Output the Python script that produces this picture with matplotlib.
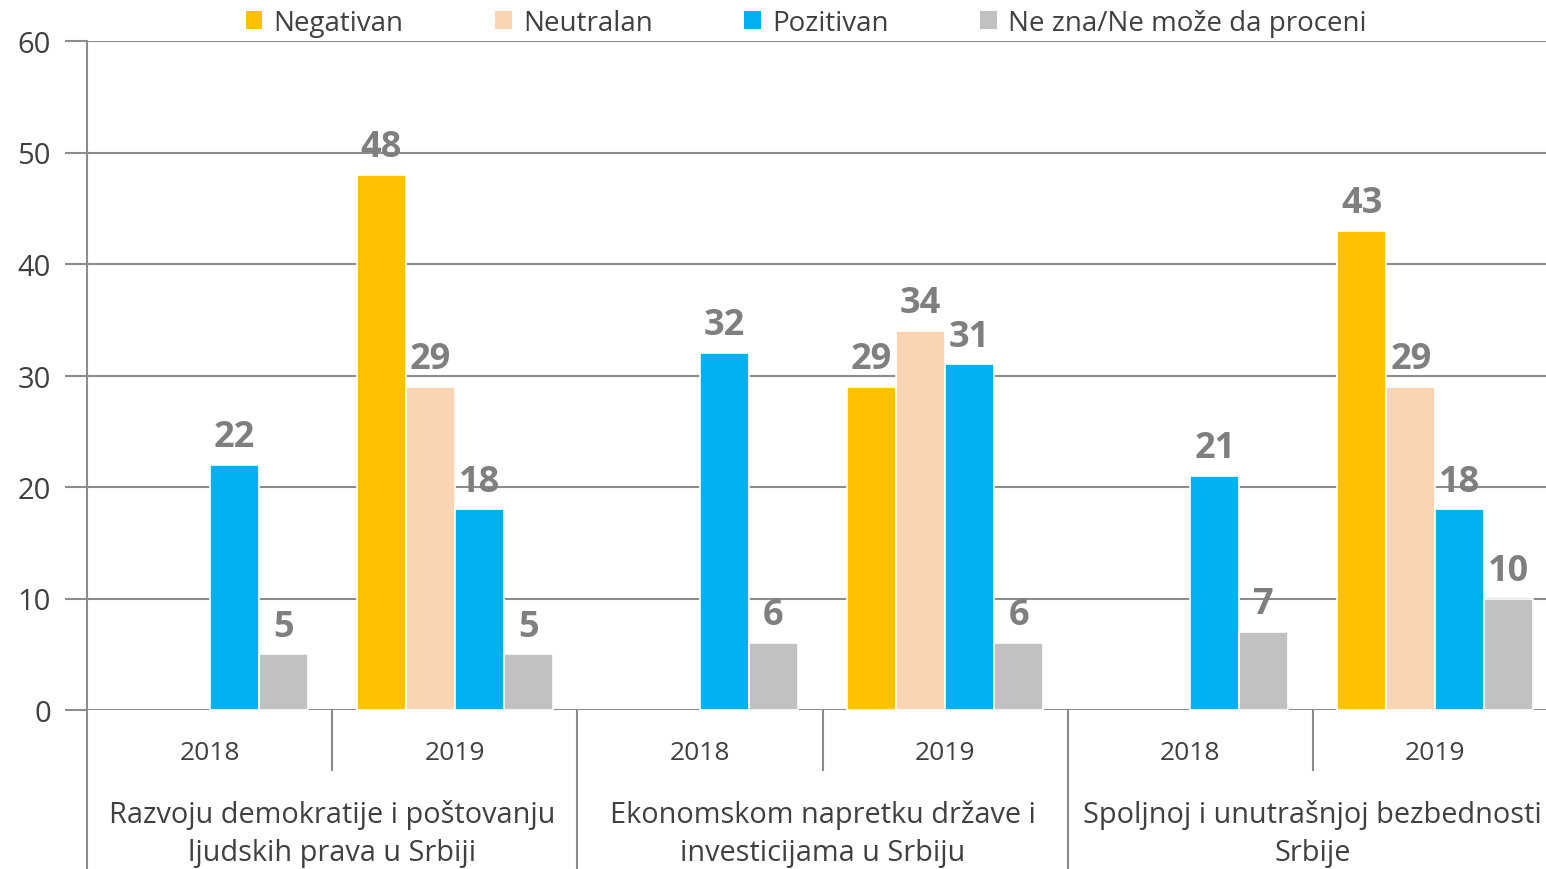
"""Grouped bars: stav prema uticaju po oblastima, 2018 vs 2019."""

import matplotlib

matplotlib.use("Agg")
import matplotlib.pyplot as plt
from matplotlib.patches import Patch
from matplotlib.lines import Line2D

plt.rcParams["font.family"] = ["Open Sans", "DejaVu Sans"]

# data
categories = [
    "Razvoju demokratije i poštovanju\nljudskih prava u Srbiji",
    "Ekonomskom napretku države i\ninvesticijama u Srbiju",
    "Spoljnoj i unutrašnjoj bezbednosti\nSrbije",
]
years = ["2018", "2019", "2018", "2019", "2018", "2019"]
series_names = ["Negativan", "Neutralan", "Pozitivan", "Ne zna/Ne može da proceni"]
negativan = [None, 48, None, 29, None, 43]
neutralan = [None, 29, None, 34, None, 29]
pozitivan = [22, 18, 32, 31, 21, 18]
ne_zna = [5, 5, 6, 6, 7, 10]
y_ticks = [0, 10, 20, 30, 40, 50, 60]

colors = ["#FFC000", "#FBD4B4", "#00B0F0", "#C0C1C3"]
GRID = "#8C8C8C"
TEXT = "#404040"
LABEL = "#7F7F7F"

fig = plt.figure(figsize=(15.46, 8.7), dpi=100)
ax = fig.add_axes([87 / 1546, 159 / 870, 1471 / 1546, 669 / 870])

width = 0.2
offsets = [-0.3, -0.1, 0.1, 0.3]
all_series = [negativan, neutralan, pozitivan, ne_zna]

for vals, off, col in zip(all_series, offsets, colors):
    for i, v in enumerate(vals):
        if v is None:
            continue
        x = i + 0.5 + off
        ax.bar(x, v, width=width, color=col, edgecolor="white", linewidth=1.2, zorder=3)
        ax.annotate(
            str(v), (x, v), xytext=(0, 7), textcoords="offset points",
            ha="center", va="bottom", fontsize=26, fontweight="bold",
            color=LABEL, zorder=4,
        )

ax.set_xlim(0, 6)
ax.set_ylim(0, 60)
ax.set_yticks(y_ticks)
ax.tick_params(axis="y", length=16, width=1.5, color=GRID, pad=10,
               labelsize=21, labelcolor=TEXT)
ax.set_xticks([])
ax.yaxis.grid(True, color=GRID, linewidth=1.5, zorder=0)
for side in ["top", "right", "bottom", "left"]:
    ax.spines[side].set_visible(False)

# axis lines of the two-level x axis
trans = ax.get_xaxis_transform()
ax.add_line(Line2D([0, 0], [1, -159 / 669], transform=trans, color=GRID,
                   linewidth=1.5, clip_on=False))
for xb in [1, 3, 5]:
    ax.add_line(Line2D([xb, xb], [0, -60 / 669], transform=trans, color=GRID,
                       linewidth=1.5, clip_on=False))
for xb in [2, 4, 6]:
    ax.add_line(Line2D([xb, xb], [0, -159 / 669], transform=trans, color=GRID,
                       linewidth=1.5, clip_on=False))

for i, yr in enumerate(years):
    ax.text(i + 0.5, -43 / 669, yr, transform=trans, ha="center", va="center",
            fontsize=19, color=TEXT)
for j, cat in enumerate(categories):
    ax.text(2 * j + 1, -123 / 669, cat, transform=trans, ha="center", va="center",
            fontsize=20.8, color=TEXT, linespacing=1.42)

handles = [Patch(facecolor=c, edgecolor="none") for c in colors]
fig.legend(handles, series_names, loc="center", bbox_to_anchor=(806 / 1546, 1 - 24 / 870),
           ncol=4, frameon=False, fontsize=20, labelcolor=TEXT,
           handlelength=0.6, handleheight=0.6, handletextpad=0.4, columnspacing=3.3,
           borderpad=0, borderaxespad=0)

fig.savefig("out.png", dpi=100)
